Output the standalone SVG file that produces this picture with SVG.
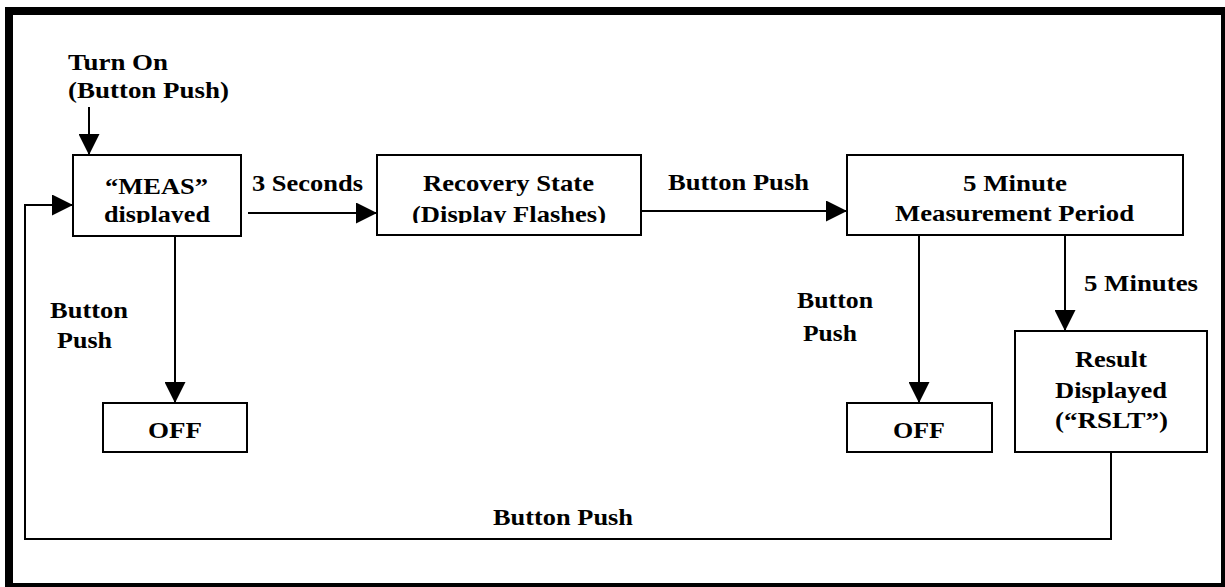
<svg xmlns="http://www.w3.org/2000/svg" width="1225" height="587" viewBox="0 0 1225 587">
<style>
.box{fill:#fff;stroke:#000;stroke-width:2}
.ln{fill:none;stroke:#000;stroke-width:2}
text{font-family:"Liberation Serif","Times New Roman",serif;font-weight:bold;font-size:23px;fill:#000}
</style>
<defs>
<marker id="arr" markerUnits="userSpaceOnUse" markerWidth="21" markerHeight="21" refX="21" refY="10.5" orient="auto">
<path d="M0,0 L21,10.5 L0,21 z" fill="#000"/>
</marker>
<clipPath id="clipTop"><rect x="0" y="0" width="1225" height="223"/></clipPath>
</defs>
<rect x="9" y="11" width="1216" height="576" fill="#fff" stroke="#000" stroke-width="8"/>

<g id="connectors">
<line class="ln" x1="89" y1="107" x2="89" y2="155" marker-end="url(#arr)"/>
<line class="ln" x1="248" y1="213" x2="377" y2="213" marker-end="url(#arr)"/>
<line class="ln" x1="641" y1="211" x2="847" y2="211" marker-end="url(#arr)"/>
<line class="ln" x1="175" y1="236" x2="175" y2="403" marker-end="url(#arr)"/>
<line class="ln" x1="919" y1="235" x2="919" y2="403" marker-end="url(#arr)"/>
<line class="ln" x1="1065" y1="235" x2="1065" y2="331" marker-end="url(#arr)"/>
<polyline class="ln" points="1111,452 1111,539 25,539 25,205 73,205" marker-end="url(#arr)"/>
<text x="68" y="70" textLength="100" lengthAdjust="spacingAndGlyphs">Turn On</text>
<text x="68" y="98" textLength="161" lengthAdjust="spacingAndGlyphs">(Button Push)</text>
<text x="252" y="191" textLength="111" lengthAdjust="spacingAndGlyphs">3 Seconds</text>
<text x="668" y="190" textLength="141" lengthAdjust="spacingAndGlyphs">Button Push</text>
<text x="1084" y="291" textLength="114" lengthAdjust="spacingAndGlyphs">5 Minutes</text>
<text x="797" y="308" textLength="76" lengthAdjust="spacingAndGlyphs">Button</text>
<text x="803" y="341" textLength="54" lengthAdjust="spacingAndGlyphs">Push</text>
<text x="50" y="318" textLength="78" lengthAdjust="spacingAndGlyphs">Button</text>
<text x="57" y="348" textLength="55" lengthAdjust="spacingAndGlyphs">Push</text>
<text x="493" y="525" textLength="140" lengthAdjust="spacingAndGlyphs">Button Push</text>
</g>

<g id="meas">
<rect class="box" x="73" y="155" width="168" height="81"/>
<text x="105" y="194" textLength="103" lengthAdjust="spacingAndGlyphs">“MEAS”</text>
<text x="104" y="222" textLength="106" lengthAdjust="spacingAndGlyphs" clip-path="url(#clipTop)">displayed</text>
</g>

<g id="recovery">
<rect class="box" x="377" y="155" width="264" height="80"/>
<text x="423" y="191" textLength="171" lengthAdjust="spacingAndGlyphs">Recovery State</text>
<text x="412" y="222" textLength="194" lengthAdjust="spacingAndGlyphs" clip-path="url(#clipTop)">(Display Flashes)</text>
</g>

<g id="measurement">
<rect class="box" x="847" y="155" width="336" height="80"/>
<text x="963" y="191" textLength="104" lengthAdjust="spacingAndGlyphs">5 Minute</text>
<text x="895" y="221" textLength="239" lengthAdjust="spacingAndGlyphs">Measurement Period</text>
</g>

<g id="result">
<rect class="box" x="1015" y="331" width="192" height="121"/>
<text x="1075" y="367" textLength="72" lengthAdjust="spacingAndGlyphs">Result</text>
<text x="1055" y="398" textLength="112" lengthAdjust="spacingAndGlyphs">Displayed</text>
<text x="1055" y="428" textLength="113" lengthAdjust="spacingAndGlyphs">(“RSLT”)</text>
</g>

<g id="off-left">
<rect class="box" x="103" y="403" width="144" height="49"/>
<text x="148" y="438" textLength="54" lengthAdjust="spacingAndGlyphs">OFF</text>
</g>

<g id="off-right">
<rect class="box" x="847" y="403" width="145" height="49"/>
<text x="893" y="438" textLength="52" lengthAdjust="spacingAndGlyphs">OFF</text>
</g>
</svg>
